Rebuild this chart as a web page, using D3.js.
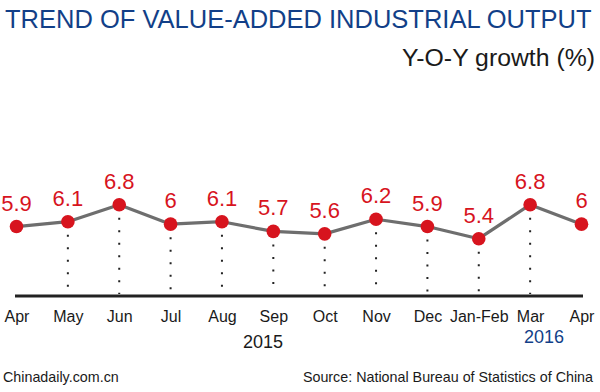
<!DOCTYPE html>
<html>
<head>
<meta charset="utf-8">
<script src="https://cdn.jsdelivr.net/npm/d3@7"></script>
<style>
  html, body { margin: 0; padding: 0; background: #fff; }
  svg { display: block; font-family: "Liberation Sans", Arial, sans-serif; }
</style>
</head>
<body>
<svg id="chart" width="600" height="392"></svg>
<script>
const categories = ["Apr", "May", "Jun", "Jul", "Aug", "Sep", "Oct", "Nov", "Dec", "Jan-Feb", "Mar", "Apr"];
const values = [5.9, 6.1, 6.8, 6.0, 6.1, 5.7, 5.6, 6.2, 5.9, 5.4, 6.8, 6.0];
const valueLabels = ["5.9", "6.1", "6.8", "6", "6.1", "5.7", "5.6", "6.2", "5.9", "5.4", "6.8", "6"];
const yearLabels = [{ text: "2015", at: "Sep" }, { text: "2016", at: "Mar" }];

const svg = d3.select("#chart");

const x = d3.scalePoint().domain(d3.range(categories.length)).range([16.5, 581.5]);
const y = d3.scaleLinear().domain([5.4, 6.8]).range([238.7, 204.7]);
const baseY = 296;

// Title
svg.append("text").attr("x", 5).attr("y", 28)
  .attr("font-size", 25.5).attr("fill", "#123f88")
  .text("TREND OF VALUE-ADDED INDUSTRIAL OUTPUT");
svg.append("text").attr("x", 595).attr("y", 66).attr("text-anchor", "end")
  .attr("font-size", 24.8).attr("fill", "#1a1a1a")
  .text("Y-O-Y growth (%)");

// Dotted drop lines (not for first and last)
svg.append("g").selectAll("line")
  .data(values.map((v, i) => ({ v, i })).filter(d => d.i > 0 && d.i < values.length - 1))
  .join("line")
  .attr("x1", d => x(d.i)).attr("x2", d => x(d.i))
  .attr("y1", d => y(d.v) + 13).attr("y2", baseY - 2)
  .attr("stroke", "#222").attr("stroke-width", 2)
  .attr("stroke-dasharray", "2,10.5");

// Baseline axis
const axis = d3.axisBottom(x).tickSize(0).tickFormat(i => categories[i]);
const gAxis = svg.append("g").attr("transform", `translate(0,${baseY})`).call(axis);
gAxis.select(".domain").attr("d", `M15,0H583`).attr("stroke", "#222").attr("stroke-width", 3);
gAxis.selectAll(".tick text").attr("font-size", 16).attr("fill", "#1a1a1a")
  .attr("font-family", "Liberation Sans, Arial, sans-serif")
  .attr("dy", null).attr("y", 26);

// Year labels
const step = x.step();
svg.append("g").selectAll("text").data(yearLabels).join("text")
  .attr("x", d => x(categories.indexOf(d.at)) - step * (d.text === "2015" ? 0.2 : -0.27))
  .attr("y", d => d.text === "2015" ? 348 : 343)
  .attr("text-anchor", "middle").attr("font-size", 18)
  .attr("fill", d => d.text === "2015" ? "#1a1a1a" : "#123f88")
  .text(d => d.text);

// Line
const line = d3.line().x((d, i) => x(i)).y(d => y(d));
svg.append("path").datum(values).attr("d", line)
  .attr("fill", "none").attr("stroke", "#6e6e6e").attr("stroke-width", 3.2)
  .attr("stroke-linejoin", "round");

// Dots
svg.append("g").selectAll("circle").data(values).join("circle")
  .attr("cx", (d, i) => x(i)).attr("cy", d => y(d)).attr("r", 6.8)
  .attr("fill", "#d7141e");

// Value labels
svg.append("g").selectAll("text").data(values).join("text")
  .attr("x", (d, i) => x(i)).attr("y", d => y(d) - 16)
  .attr("text-anchor", "middle").attr("font-size", 22).attr("fill", "#d7141e")
  .text((d, i) => valueLabels[i]);

// Footer
svg.append("text").attr("x", 3).attr("y", 382).attr("font-size", 14.3).attr("fill", "#1a1a1a")
  .text("Chinadaily.com.cn");
svg.append("text").attr("x", 593).attr("y", 382).attr("text-anchor", "end")
  .attr("font-size", 14.3).attr("fill", "#1a1a1a")
  .text("Source: National Bureau of Statistics of China");
</script>
</body>
</html>
